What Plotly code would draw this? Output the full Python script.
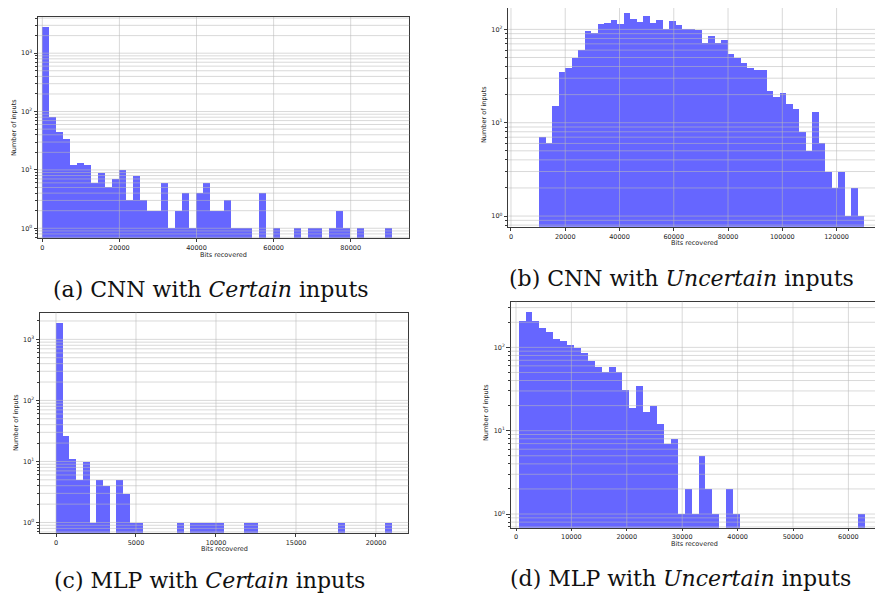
import numpy as np
import plotly.graph_objects as go

# ---------------- data ----------------
# (a) CNN with Certain inputs
a_bin_start = 0
a_bin_width = 1813
a_counts = [2800, 80, 45, 34, 12, 13, 12, 6, 9, 5,
            7, 10, 3, 8, 3, 2, 2, 6, 1, 2,
            4, 1, 4, 6, 2, 2, 3, 1, 1, 1,
            0, 4, 0, 1, 0, 0, 1, 0, 1, 1,
            0, 1, 2, 1, 0, 1, 0, 0, 0, 1]
a_xticks = [0, 20000, 40000, 60000, 80000]

# (b) CNN with Uncertain inputs
b_bin_start = 10440
b_bin_width = 2396
b_counts = [7, 6, 15, 35, 39, 49, 60, 96, 91, 113,
            116, 127, 113, 150, 129, 119, 138, 118, 125, 100,
            122, 111, 102, 100, 98, 72, 86, 72, 77, 54,
            49, 44, 39, 37, 37, 22, 19, 21, 16, 14,
            8, 5, 13, 6, 3, 2, 3, 1, 2, 1]
b_xticks = [0, 20000, 40000, 60000, 80000, 100000, 120000]

# (c) MLP with Certain inputs
c_bin_start = 0
c_bin_width = 420
c_counts = [1900, 27, 11, 5, 10, 1, 5, 4, 0, 5,
            3, 1, 1, 0, 0, 0, 0, 0, 1, 0,
            1, 1, 1, 1, 1, 0, 0, 0, 1, 1,
            0, 0, 0, 0, 0, 0, 0, 0, 0, 0,
            0, 0, 1, 0, 0, 0, 0, 0, 0, 1]
c_xticks = [0, 5000, 10000, 15000, 20000]

# (d) MLP with Uncertain inputs
d_bin_start = 421
d_bin_width = 1249
d_counts = [209, 268, 209, 171, 154, 128, 120, 107, 99, 86,
            69, 58, 51, 58, 51, 31, 19, 35, 17, 20,
            12, 7, 8, 1, 2, 1, 5, 2, 1, 0,
            2, 1, 0, 0, 0, 0, 0, 0, 0, 0,
            0, 0, 0, 0, 0, 0, 0, 0, 0, 1]
d_xticks = [0, 10000, 20000, 30000, 40000, 50000, 60000]

captions = ["(a) CNN with <i>Certain</i> inputs",
            "(b) CNN with <i>Uncertain</i> inputs",
            "(c) MLP with <i>Certain</i> inputs",
            "(d) MLP with <i>Uncertain</i> inputs"]
x_title = "Bits recovered"
y_title = "Number of inputs"

# ---------------- layout geometry (page pixels) ----------------
OFF = 8                      # default body margin of the written page
W, H = 883 - OFF, 602 - OFF  # figure size so that it fills the window


def px(x):
    return (x - OFF) / W


def py(y):
    return 1 - (y - OFF) / H


panels = [
    dict(start=a_bin_start, width=a_bin_width, counts=a_counts, xticks=a_xticks,
         box=(38, 409.3, 17, 238.3), xr=(-1115, 95200), yr=(-0.172, 3.62),
         cap=(211, 289), ylab=(14, 128), xlab=(223, 255), tl=3),
    dict(start=b_bin_start, width=b_bin_width, counts=b_counts, xticks=b_xticks,
         box=(508.3, 879.3, 2.7, 226.7), xr=(-983, 135750), yr=(-0.114, 2.286),
         cap=(681, 278), ylab=(484, 115), xlab=(694, 243), tl=3),
    dict(start=c_bin_start, width=c_bin_width, counts=c_counts, xticks=c_xticks,
         box=(40, 408.3, 312.5, 532.8), xr=(-1000, 22020), yr=(-0.169, 3.44),
         cap=(209, 580), ylab=(16, 423), xlab=(224, 549), tl=3),
    dict(start=d_bin_start, width=d_bin_width, counts=d_counts, xticks=d_xticks,
         box=(510.7, 881, 301.7, 527.7), xr=(-957, 65885), yr=(-0.164, 2.548),
         cap=(680, 578), ylab=(486, 413), xlab=(694, 544), tl=2),
]

BAR = "rgb(102,102,255)"
GRID = "rgba(185,185,185,0.55)"
AXC = "#3a3a3a"
TICKF = dict(family="DejaVu Sans", size=6.5, color="#222")

fig = go.Figure()
shapes = []
annotations = []

for i, p in enumerate(panels, start=1):
    xa = "x" if i == 1 else f"x{i}"
    ya = "y" if i == 1 else f"y{i}"
    counts = np.array(p["counts"], dtype=float)
    n = len(counts)
    centers = p["start"] + (np.arange(n) + 0.5) * p["width"]
    yvals = [c if c > 0 else None for c in counts]
    fig.add_trace(go.Bar(x=centers, y=yvals, width=p["width"],
                         marker=dict(color=BAR, line=dict(width=0)),
                         xaxis=xa, yaxis=ya, showlegend=False,
                         hoverinfo="x+y"))
    L, R, T, B = p["box"]
    y0, y1 = p["yr"]
    # the page margin hides anything above OFF: clip the box there, keep scale
    if T < OFF:
        rate = (y1 - y0) / (B - T)
        y1 -= (OFF - T) * rate
        T = OFF
    dom_x = [px(L), min(px(R), 1.0)]
    dom_y = [py(B), py(T)]
    decades = [d for d in range(-1, 5) if y0 <= d <= y1]
    minors = []
    for d in range(-1, 5):
        for m in range(2, 10):
            v = m * 10 ** d
            if y0 <= np.log10(v) <= y1:
                minors.append(v)
    xkey = "xaxis" if i == 1 else f"xaxis{i}"
    ykey = "yaxis" if i == 1 else f"yaxis{i}"
    fig.update_layout(**{
        xkey: dict(domain=dom_x, anchor=ya, range=list(p["xr"]),
                   tickvals=p["xticks"], ticktext=[str(t) for t in p["xticks"]],
                   ticks="outside", ticklen=p["tl"], tickwidth=0.8, tickcolor=AXC,
                   showgrid=False, zeroline=False, showline=True, linecolor=AXC,
                   linewidth=1, mirror=True, tickfont=TICKF),
        ykey: dict(domain=dom_y, anchor=xa, type="log", range=[y0, y1],
                   tickvals=[10 ** d for d in decades],
                   ticktext=[f"10<sup>{d}</sup>" for d in decades],
                   ticks="outside", ticklen=3.5, tickwidth=0.8, tickcolor=AXC,
                   minor=dict(tickvals=minors, ticks="outside", ticklen=2,
                              tickwidth=0.6, tickcolor=AXC, showgrid=False),
                   showgrid=False, zeroline=False, showline=True, linecolor=AXC,
                   linewidth=1, mirror=True, tickfont=TICKF),
    })
    # grid drawn above the bars (as in the reference)
    for v in [10 ** d for d in decades] + minors:
        shapes.append(dict(type="line", xref=f"{xa} domain", yref=ya,
                           x0=0, x1=1, y0=v, y1=v,
                           line=dict(color=GRID, width=1), layer="above"))
    for t in p["xticks"]:
        shapes.append(dict(type="line", xref=xa, yref=f"{ya} domain",
                           x0=t, x1=t, y0=0, y1=1,
                           line=dict(color=GRID, width=1), layer="above"))
    cx, cy = p["cap"]
    annotations.append(dict(text=captions[i - 1], x=px(cx), y=py(cy),
                            xref="paper", yref="paper", showarrow=False,
                            xanchor="center", yanchor="middle",
                            font=dict(family="DejaVu Serif", size=22, color="#111")))
    lx, ly = p["ylab"]
    annotations.append(dict(text=y_title, x=px(lx), y=py(ly),
                            xref="paper", yref="paper", showarrow=False,
                            textangle=-90, xanchor="center", yanchor="middle",
                            font=dict(family="DejaVu Sans", size=6.5, color="#222")))
    bx, by = p["xlab"]
    annotations.append(dict(text=x_title, x=px(bx), y=py(by),
                            xref="paper", yref="paper", showarrow=False,
                            xanchor="center", yanchor="middle",
                            font=dict(family="DejaVu Sans", size=6.5, color="#222")))

fig.update_layout(width=W, height=H, margin=dict(l=0, r=0, t=0, b=0),
                  paper_bgcolor="white", plot_bgcolor="white",
                  bargap=0, shapes=shapes, annotations=annotations,
                  showlegend=False)

fig.write_html("out.html")
